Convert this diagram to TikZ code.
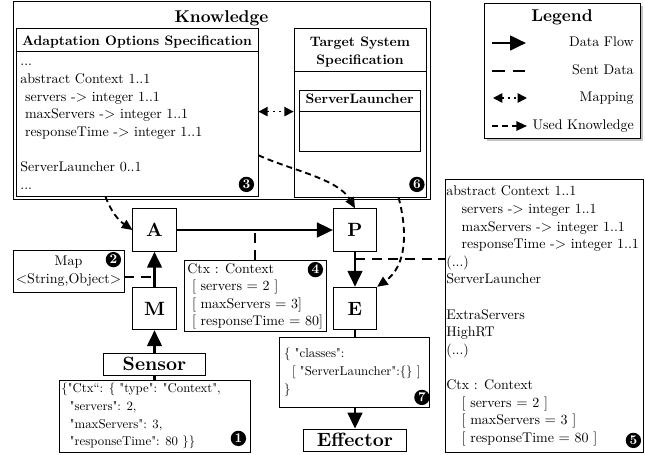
\documentclass[tikz,border=0pt]{standalone}
\usepackage{fontspec}
\setmainfont{lmroman10-regular.otf}[BoldFont=lmroman10-bold.otf, Ligatures=TeXOff]
\usetikzlibrary{
    arrows.meta,
    calc,
    fit,
    positioning,
    shadows
}
\tikzset{
    box/.style={draw, line width=0.6pt, inner sep=0pt},
    fitbox/.style={box, fit={#1}},
    comp/.style={box, minimum width=32.5pt, minimum height=32pt, font=\Large\bfseries},
    io/.style={box, minimum width=77pt, minimum height=16.5pt, font=\Large\bfseries},
    txt/.style={anchor=north west, inner sep=0pt, align=left, font=\fontsize{10.5}{13.2}\selectfont},
    jsontxt/.style={txt, font=\fontsize{9.6}{13.2}\selectfont},
    legtxt/.style={anchor=east, inner sep=0pt, text height=7pt, text depth=2pt, font=\fontsize{10.5}{13}\selectfont},
    badge/.style={circle, fill=black, text=white, inner sep=0pt, minimum size=11.5pt, font=\bfseries},
    flowline/.style={line width=2pt},
    flow/.style={flowline, -{Triangle[length=12pt, width=11pt]}},
    sent/.style={line width=1.4pt, dash pattern=on 7.5pt off 5pt},
    used/.style={line width=1.4pt, dash pattern=on 4.5pt off 3pt, -{Triangle[length=8pt, width=7pt]}},
    mapping/.style={line width=1.2pt, dash pattern=on 1.5pt off 3pt,
        {Triangle[length=7pt, width=7pt]}-{Triangle[length=7pt, width=7pt]}}
}

\begin{document}
\begin{tikzpicture}[x=0.75pt, y=-0.75pt]
    \useasboundingbox (0, 0) rectangle (645, 454);

    \node[fitbox={(13, 1) (430, 199)}] (know) {};
    \node[anchor=base, font=\fontsize{12.8}{15}\selectfont\bfseries] (knowtitle) at ($(know.north)+(0, 21.5)$) {Knowledge};

    \node[fitbox={(16, 28) (258, 196)}] (aos) {};
    \node[anchor=base, font=\fontsize{10.3}{13}\selectfont\bfseries] (aostitle) at ($(aos.north)+(0, 18)$) {Adaptation Options Specification};
    \draw[line width=0.6pt] ($(aos.north west)+(0, 24)$) -- ($(aos.north east)+(0, 24)$);
    \node[txt] (aostext) at ($(aos.north west)+(4.5, 25.7)$) {\strut...\\
        abstract Context 1..1\\
        \ servers -$>$ integer 1..1\\
        \ maxServers -$>$ integer 1..1\\
        \ responseTime -$>$ integer 1..1\\
        \strut\\
        ServerLauncher 0..1\\
        ...};
    \node[badge] (b3) at ($(aos.south east)+(-12, -12)$) {3};

    \node[fitbox={(294, 28) (426, 197)}] (tss) {};
    \node[anchor=north, inner sep=0pt, align=center, font=\fontsize{10.3}{13.2}\selectfont\bfseries] (tsstitle)
        at ($(tss.north)+(0, 6.4)$) {\strut Target System\\Specification};
    \draw[line width=0.6pt] ($(tss.north west)+(0, 44)$) -- ($(tss.north east)+(0, 44)$);
    \node[fitbox={(299, 90) (420, 151)}] (sl) {};
    \node[anchor=base, font=\fontsize{10.3}{13}\selectfont\bfseries] (sltitle) at ($(sl.north)+(0, 14.3)$) {ServerLauncher};
    \coordinate (slsplit) at ($(sl.north west)+(0, 22)$);
    \draw[line width=0.6pt] (slsplit) -- (slsplit -| sl.east);
    \node[badge] (b6) at ($(tss.south east)+(-9.5, -13)$) {6};

    \draw[mapping] (aos.east |- slsplit) -- (tss.west |- slsplit);

    \node[fitbox={(484, 3) (640, 138)}, fill=white,
        drop shadow={shadow xshift=2.5pt, shadow yshift=-2.5pt, fill=black!45}] (legend) {};
    \node[anchor=base, font=\fontsize{12.8}{15}\selectfont\bfseries] (legtitle) at ($(legend.north)+(0, 19)$) {Legend};
    \coordinate (lf1) at (492, 43);
    \coordinate (lf2) at (526, 43);
    \coordinate (ls1) at (492, 71);
    \coordinate (ls2) at (526, 71);
    \coordinate (lm1) at (493, 98);
    \coordinate (lm2) at (527, 98);
    \coordinate (lu1) at (492, 126);
    \coordinate (lu2) at (527, 126);
    \draw[flow] (lf1) -- (lf2);
    \draw[sent, dash pattern=on 9.5pt off 6pt] (ls1) -- (ls2);
    \draw[mapping] (lm1) -- (lm2);
    \draw[used] (lu1) -- (lu2);
    \node[legtxt] (lflabel) at (634, 43) {Data Flow};
    \node[legtxt] (lslabel) at (634, 71) {Sent Data};
    \node[legtxt] (lmlabel) at (634, 98) {Mapping};
    \node[legtxt] (lulabel) at (634, 126) {Used Knowledge};

    \node[comp] (nA) at (154.5, 230) {A};
    \node[comp] (nM) at (154.5, 308.5) {M};
    \node[comp] (nP) at (355, 230) {P};
    \node[comp] (nE) at (355, 308.5) {E};
    \node[io] (sensor) at (154.5, 364) {Sensor};
    \node[io] (effector) at (355, 440) {Effector};

    \node[fitbox={(13, 250) (124, 292)}] (map) {};
    \node[inner sep=0pt, align=center, font=\fontsize{10.5}{13.2}\selectfont] (maptext) at (map) {Map\\$<$String,Object$>$};
    \node[badge] (b2) at ($(map.north east)+(-11, 10)$) {2};

    \node[fitbox={(184, 260) (326, 331)}] (ctx) {};
    \node[txt] (ctxtext) at ($(ctx.north west)+(3.5, 1)$) {\strut Ctx : Context\\
        \ [ servers $=$ 2 ]\\
        \ [ maxServers $=$ 3]\\
        \ [ responseTime $=$ 80]};
    \node[badge] (b4) at ($(ctx.north east)+(-11, 10)$) {4};

    \node[fitbox={(59, 380) (250, 452)}] (json) {};
    \node[jsontxt] (jsontext) at ($(json.north west)+(2.5, 0.7)$) {\strut\{"Ctx“: \{ "type": "Context",\\
        \ \ "servers": 2,\\
        \ \ "maxServers": 3,\\
        \ \ "responseTime": 80 \}\}};
    \node[badge] (b1) at ($(json.south east)+(-12, -14)$) {1};

    \node[fitbox={(279, 337) (429, 407)}] (cls) {};
    \node[jsontxt] (clstext) at ($(cls.north west)+(5.3, 8.7)$) {\strut\{ "classes":\\
        \hspace{6pt}[ "ServerLauncher":\{\} ]\\
        \}};
    \node[badge] (b7) at ($(cls.south east)+(-7.5, -10)$) {7};

    \node[fitbox={(445, 179) (643, 452)}] (info) {};
    \node[txt] (infotext) at ($(info.north west)+(1.5, 4.7)$) {\strut abstract Context 1..1\\
        \hspace{11.5pt}servers -$>$ integer 1..1\\
        \hspace{11.5pt}maxServers -$>$ integer 1..1\\
        \hspace{11.5pt}responseTime -$>$ integer 1..1\\
        (...)\\
        ServerLauncher\\
        \strut\\
        ExtraServers\\
        HighRT\\
        (...)\\
        \strut\\
        Ctx : Context\\
        \hspace{11.5pt}[ servers $=$ 2 ]\\
        \hspace{11.5pt}[ maxServers $=$ 3 ]\\
        \hspace{11.5pt}[ responseTime $=$ 80 ]};
    \node[badge] (b5) at ($(info.south east)+(-10, -12)$) {5};

    \draw[flowline] (json) -- (sensor);
    \draw[flow] (sensor) -- (nM);
    \draw[flow] (nM) -- (nA);
    \draw[flow] (nA) -- (nP);
    \draw[flow] (nP) -- (nE);
    \draw[flowline] (nE.south) -- (nE.south |- cls.north);
    \draw[flow] (cls.south -| effector) -- (effector.north);

    \coordinate (ma) at ($(nM.north)!0.28!(nA.south)$);
    \coordinate (pe) at ($(nP.south)!0.2!(nE.north)$);
    \draw[sent] (map.east |- ma) -- (ma);
    \draw[sent] (ctx.north) -- (ctx.north |- nA.east);
    \draw[sent] (pe) -- (pe -| info.west);

    \draw[used] ($(aos.south west)!0.37!(aos.south east)$) to[out=-70, in=145] (nA.west);
    \draw[used] ($(aos.north east)!0.756!(aos.south east)$) to[out=-25, in=120, looseness=0.8] (nP.north);
    \draw[used] ($(tss.south west)!0.79!(tss.south east)$) to[out=-75, in=35] (nE.north east);
\end{tikzpicture}
\end{document}
